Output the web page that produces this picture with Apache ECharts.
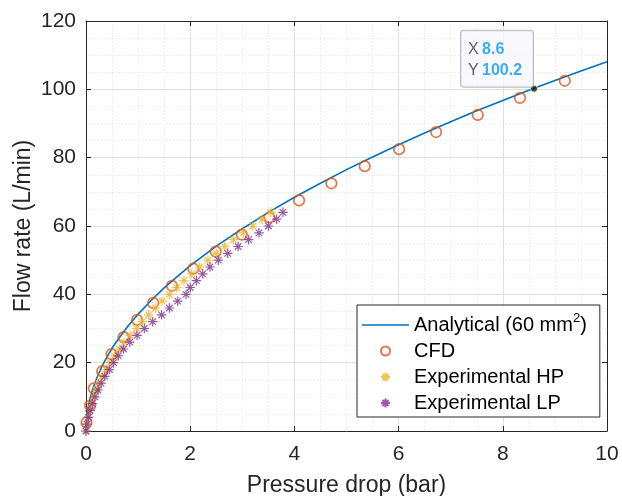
<!DOCTYPE html>
<html>
<head>
<meta charset="utf-8">
<script src="https://cdn.jsdelivr.net/npm/echarts@6/dist/echarts.min.js"></script>
<style>
html,body{margin:0;padding:0;background:#fff;}
#chart{width:622px;height:496px;}
</style>
</head>
<body>
<div id="chart"></div>
<script>
// ---- data ----
const analyticalX = [0, 0.01, 0.03, 0.06, 0.1, 0.15, 0.2, 0.3, 0.4, 0.5, 0.6, 0.8, 1.0, 1.25, 1.5, 1.75, 2, 2.5, 3, 3.5, 4, 4.5, 5, 5.5, 6, 6.5, 7, 7.5, 8, 8.5, 9, 9.5, 10];
const analyticalY = [0, 3.4, 5.9, 8.4, 10.8, 13.2, 15.3, 18.7, 21.6, 24.2, 26.5, 30.6, 34.2, 38.2, 41.9, 45.2, 48.4, 54.1, 59.2, 64.0, 68.4, 72.5, 76.5, 80.2, 83.8, 87.2, 90.5, 93.7, 96.7, 99.7, 102.6, 105.4, 108.1];

const cfdX = [0.01, 0.08, 0.15, 0.31, 0.49, 0.72, 0.98, 1.29, 1.65, 2.06, 2.49, 2.99, 3.52, 4.09, 4.71, 5.35, 6.01, 6.72, 7.52, 8.33, 9.19];
const cfdY = [2.5, 7.5, 12.5, 17.5, 22.5, 27.5, 32.5, 37.5, 42.5, 47.5, 52.5, 57.5, 62.5, 67.5, 72.5, 77.5, 82.5, 87.5, 92.5, 97.5, 102.5];

const hpX = [0.0, 0.02, 0.04, 0.07, 0.1, 0.14, 0.19, 0.24, 0.31, 0.38, 0.46, 0.55, 0.64, 0.73, 0.85, 0.97, 1.08, 1.2, 1.33, 1.46, 1.6, 1.74, 1.88, 2.03, 2.18, 2.34, 2.5, 2.66, 2.83, 3.02, 3.2, 3.38, 3.55];
const hpY = [0, 2, 4, 6, 8, 10, 12, 14, 16, 18, 20, 22, 24, 26, 28, 30, 32, 34, 36, 38, 40, 42, 44, 46, 48, 50, 52, 54, 56, 58, 60, 62, 64];

const lpX = [0, 0.02, 0.05, 0.08, 0.12, 0.17, 0.23, 0.29, 0.36, 0.45, 0.53, 0.62, 0.72, 0.84, 0.98, 1.12, 1.28, 1.45, 1.6, 1.76, 1.92, 2.0, 2.12, 2.24, 2.38, 2.54, 2.72, 2.92, 3.12, 3.32, 3.5, 3.66, 3.78];
const lpY = [0, 2, 4, 6, 8, 10, 12, 14, 16, 18, 20, 22, 24, 26, 28, 30, 32, 34, 36, 38, 40, 42, 44, 46, 48, 50, 52, 54, 56, 58, 60, 62, 64];

const tipX = [8.6];
const tipY = [100.2];

const xTicks = [0, 2, 4, 6, 8, 10];
const yTicks = [0, 20, 40, 60, 80, 100, 120];

const seriesNames = ['Analytical (60 mm2)', 'CFD', 'Experimental HP', 'Experimental LP'];
const xTitle = 'Pressure drop (bar)';
const yTitle = 'Flow rate (L/min)';

// ---- build ----
const zip = (a, b) => a.map((v, i) => [v, b[i]]);
const FONT = '"Liberation Sans", Arial, Helvetica, sans-serif';
const AX = '#262626';
const star = 'path://M0,5L10,5M5,0L5,10M1.6,1.6L8.4,8.4M1.6,8.4L8.4,1.6';

const xMin = xTicks[0], xMax = xTicks[xTicks.length - 1], xInt = xTicks[1] - xTicks[0];
const yMin = yTicks[0], yMax = yTicks[yTicks.length - 1], yInt = yTicks[1] - yTicks[0];

function axisBase(extra) {
  return Object.assign({
    type: 'value',
    nameMoveOverlap: false,
    axisLine: { show: true, onZero: false, lineStyle: { color: AX, width: 1 } },
    axisTick: { show: true, inside: true, length: 5, lineStyle: { color: AX, width: 1 } },
    minorTick: { show: false },
  }, extra);
}

const chart = echarts.init(document.getElementById('chart'), null, { renderer: 'canvas' });
chart.setOption({
  animation: false,
  backgroundColor: '#ffffff',
  textStyle: { fontFamily: FONT },
  grid: { left: 86, right: 15, top: 21, bottom: 65, containLabel: false, outerBoundsMode: 'none' },
  xAxis: [
    axisBase({
      position: 'bottom', min: xMin, max: xMax, interval: xInt,
      name: xTitle, nameLocation: 'middle', nameGap: 43,
      nameTextStyle: { fontSize: 23, color: AX, fontFamily: FONT },
      axisLabel: { fontSize: 21, color: AX, margin: 13, fontFamily: FONT },
      splitLine: { show: true, lineStyle: { color: '#dedede', width: 1 } },
      minorTick: { show: false, splitNumber: 4 },
      minorSplitLine: { show: true, lineStyle: { color: '#e6e6e6', width: 1, type: [1, 2] } },
    }),
    axisBase({
      position: 'top', min: xMin, max: xMax, interval: xInt,
      axisLabel: { show: false }, splitLine: { show: false },
    }),
  ],
  yAxis: [
    axisBase({
      position: 'left', min: yMin, max: yMax, interval: yInt,
      name: yTitle, nameLocation: 'middle', nameGap: 51,
      nameTextStyle: { fontSize: 23, color: AX, fontFamily: FONT },
      axisLabel: { fontSize: 21, color: AX, margin: 10, fontFamily: FONT },
      splitLine: { show: true, lineStyle: { color: '#dedede', width: 1 } },
      minorTick: { show: false, splitNumber: 4 },
      minorSplitLine: { show: true, lineStyle: { color: '#e6e6e6', width: 1, type: [1, 2] } },
    }),
    axisBase({
      position: 'right', min: yMin, max: yMax, interval: yInt,
      axisLabel: { show: false }, splitLine: { show: false },
    }),
  ],
  legend: {
    orient: 'vertical',
    left: 357, top: 305,
    padding: [7, 13, 1, 5],
    itemGap: 0,
    itemWidth: 47,
    itemHeight: 9,
    backgroundColor: '#ffffff',
    borderColor: AX,
    borderWidth: 1,
    borderRadius: 0,
    formatter: (name) => name === seriesNames[0] ? 'Analytical (60 mm{sup|2})' : name,
    textStyle: {
      fontSize: 20, color: '#000', fontFamily: FONT, lineHeight: 26,
      rich: {
        sup: { fontSize: 13, color: '#000', fontFamily: FONT, verticalAlign: 'top', lineHeight: 13 },
      },
    },
    data: [
      { name: seriesNames[0], icon: 'path://M0,0L30,0L30,1L0,1Z' },
      { name: seriesNames[1] },
      { name: seriesNames[2] },
      { name: seriesNames[3] },
    ],
  },
  series: [
    {
      name: seriesNames[0], type: 'line', data: zip(analyticalX, analyticalY),
      showSymbol: false, symbol: 'none', smooth: false,
      lineStyle: { color: '#0072BD', width: 1.6 }, itemStyle: { color: '#0072BD' },
      z: 2,
    },
    {
      name: seriesNames[1], type: 'scatter', data: zip(cfdX, cfdY),
      symbol: 'circle', symbolSize: 10.5,
      itemStyle: { color: 'rgba(255,255,255,0)', borderColor: '#D95319', borderWidth: 1.7 },
      z: 3,
    },
    {
      name: seriesNames[2], type: 'scatter', data: zip(hpX, hpY),
      symbol: star, symbolSize: 9.5,
      itemStyle: { color: 'rgba(255,255,255,0)', borderColor: '#EDB120', borderWidth: 1.2 },
      z: 4,
    },
    {
      name: seriesNames[3], type: 'scatter', data: zip(lpX, lpY),
      symbol: star, symbolSize: 9.5,
      itemStyle: { color: 'rgba(255,255,255,0)', borderColor: '#7E2F8E', borderWidth: 1.2 },
      z: 5,
    },
    {
      name: 'datatip', type: 'scatter', data: zip(tipX, tipY),
      symbol: 'circle', symbolSize: 7,
      itemStyle: { color: '#1a1a1a', borderColor: '#ffffe0', borderWidth: 1 },
      z: 10,
      label: {
        show: true,
        position: [-69, -54],
        align: 'left', verticalAlign: 'top',
        backgroundColor: '#f7f8fc',
        borderColor: '#a8a8a8', borderWidth: 1, borderRadius: 3,
        padding: [8, 7, 6, 7],
        width: 58,
        formatter: (p) => '{k|X} {v|' + p.value[0] + '}\n{k|Y} {v|' + p.value[1] + '}',
        rich: {
          k: { fontSize: 16, color: '#333', fontFamily: FONT, lineHeight: 21 },
          v: { fontSize: 16, color: '#0a98f5', fontWeight: 'bold', fontFamily: FONT, lineHeight: 21 },
        },
      },
    },
  ],
});
</script>
</body>
</html>
